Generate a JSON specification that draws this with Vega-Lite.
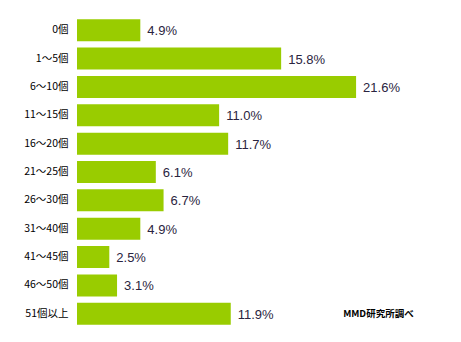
{
  "$schema": "https://vega.github.io/schema/vega-lite/v6.json",
  "autosize": "none",
  "width": 384,
  "height": 312,
  "padding": {"left": 77, "top": 16, "right": 0, "bottom": 14},
  "background": "white",
  "config": {"view": {"stroke": null}},
  "data": {"values": [
    {"cat": "0個", "v": 4.9},
    {"cat": "1〜5個", "v": 15.8},
    {"cat": "6〜10個", "v": 21.6},
    {"cat": "11〜15個", "v": 11.0},
    {"cat": "16〜20個", "v": 11.7},
    {"cat": "21〜25個", "v": 6.1},
    {"cat": "26〜30個", "v": 6.7},
    {"cat": "31〜40個", "v": 4.9},
    {"cat": "41〜45個", "v": 2.5},
    {"cat": "46〜50個", "v": 3.1},
    {"cat": "51個以上", "v": 11.9}
  ]},
  "encoding": {
    "y": {"field": "cat", "type": "nominal", "sort": null,
      "scale": {"paddingInner": 0.225, "paddingOuter": 0.1125},
      "axis": {"title": null, "domain": false, "ticks": false, "labelPadding": 9,
        "labelFont": "Noto Sans CJK JP", "labelFontSize": 10.5, "labelColor": "#000000"}},
    "x": {"field": "v", "type": "quantitative",
      "scale": {"domain": [0, 29.72], "nice": false},
      "axis": null}
  },
  "layer": [
    {"mark": {"type": "bar", "color": "#99cc00"}},
    {"transform": [{"calculate": "format(datum.v, '.1f') + '%'", "as": "lbl"}],
     "mark": {"type": "text", "align": "left", "dx": 7, "dy": 1, "font": "Liberation Sans", "fontSize": 13, "color": "#2a2440"},
     "encoding": {"text": {"field": "lbl", "type": "nominal"}}},
    {"data": {"values": [{"cat": "51個以上", "x": 20.6, "t": "MMD研究所調べ"}]},
     "mark": {"type": "text", "align": "left", "font": "Noto Sans CJK JP", "fontSize": 9.5, "fontWeight": "bold", "color": "#000000"},
     "encoding": {"x": {"field": "x", "type": "quantitative"}, "text": {"field": "t"}}}
  ]
}
